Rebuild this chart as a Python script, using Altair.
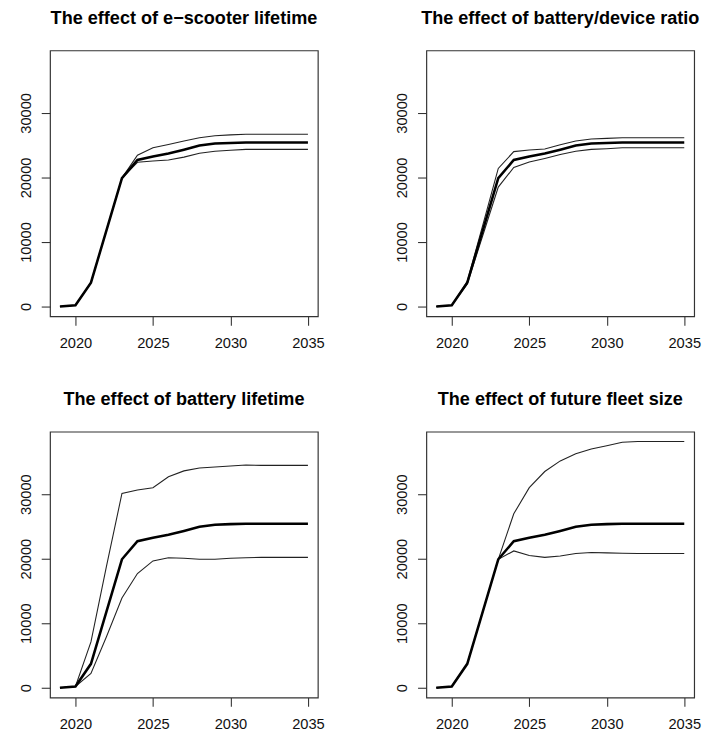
import altair as alt
import pandas as pd

years = list(range(2019, 2036))

base = [0, 200, 3700, 11800, 19900, 22700, 23250, 23700, 24300, 24950, 25250, 25350, 25400, 25400, 25400, 25400, 25400]

titles = [
    "The effect of e\u2212scooter lifetime",
    "The effect of battery/device ratio",
    "The effect of battery lifetime",
    "The effect of future fleet size",
]

upper_scooter = [0, 200, 3700, 11800, 19900, 23450, 24600, 25100, 25650, 26150, 26450, 26600, 26700, 26700, 26700, 26700, 26700]
lower_scooter = [0, 200, 3700, 11800, 19900, 22350, 22550, 22700, 23150, 23750, 24050, 24200, 24350, 24350, 24350, 24350, 24350]

upper_ratio = [0, 200, 3900, 12600, 21400, 24000, 24250, 24400, 25050, 25650, 25950, 26050, 26150, 26150, 26150, 26150, 26150]
lower_ratio = [0, 200, 3500, 11000, 18500, 21550, 22400, 22950, 23550, 24050, 24350, 24450, 24600, 24600, 24600, 24600, 24600]

upper_battery = [0, 200, 7100, 18800, 30100, 30650, 31000, 32700, 33600, 34050, 34200, 34350, 34500, 34450, 34450, 34450, 34450]
lower_battery = [0, 200, 2200, 7900, 13900, 17700, 19650, 20150, 20050, 19900, 19900, 20050, 20150, 20200, 20200, 20200, 20200]

upper_fleet = [0, 200, 3700, 11800, 19900, 26950, 31000, 33500, 35150, 36250, 37000, 37500, 38050, 38150, 38150, 38150, 38150]
lower_fleet = [0, 200, 3700, 11800, 19900, 21200, 20500, 20200, 20400, 20800, 20950, 20900, 20850, 20800, 20800, 20800, 20800]

x_ticks = [2020, 2025, 2030, 2035]
y_ticks = [0, 10000, 20000, 30000]

variants = [
    (upper_scooter, lower_scooter),
    (upper_ratio, lower_ratio),
    (upper_battery, lower_battery),
    (upper_fleet, lower_fleet),
]

# R-style axis limits: data range extended by 4% on each side
all_vals = base + [v for pair in variants for s in pair for v in s]
ymin, ymax = min(all_vals), max(all_vals)
ypad = 0.04 * (ymax - ymin)
xpad = 0.04 * (years[-1] - years[0])
y_dom = [ymin - ypad, ymax + ypad]
x_dom = [years[0] - xpad, years[-1] + xpad]

W, H = 274, 272


def panel(title, upper, lower):
    rows = []
    for y, b, u, l in zip(years, base, upper, lower):
        rows.append({"year": y, "value": b, "series": "base"})
        rows.append({"year": y, "value": u, "series": "upper"})
        rows.append({"year": y, "value": l, "series": "lower"})
    df = pd.DataFrame(rows)
    x = alt.X("year:Q", scale=alt.Scale(domain=x_dom, nice=False, zero=False),
              axis=alt.Axis(values=x_ticks, format="d", title=None, labelPadding=11,
                            labelAngle=0))
    y = alt.Y("value:Q", scale=alt.Scale(domain=y_dom, nice=False, zero=False),
              axis=alt.Axis(values=y_ticks, format="d", title=None, labelAngle=270,
                            labelAlign="center", labelBaseline="alphabetic", labelPadding=11))
    thin = alt.Chart(df).transform_filter(alt.datum.series != "base").mark_line(
        color="#222", strokeWidth=1.1
    ).encode(x=x, y=y, detail="series:N")
    thick = alt.Chart(df).transform_filter(alt.datum.series == "base").mark_line(
        color="black", strokeWidth=2.6
    ).encode(x=x, y=y)
    return alt.layer(thin, thick).properties(
        width=W, height=H,
        title=alt.TitleParams(title, fontSize=18.5, fontWeight="bold", font="Liberation Sans",
                              color="black", anchor="middle", offset=24),
    )


charts = [panel(t, u, l) for t, (u, l) in zip(titles, variants)]

chart = alt.vconcat(
    alt.hconcat(charts[0], charts[1], spacing=70),
    alt.hconcat(charts[2], charts[3], spacing=70),
    spacing=38,
).properties(
    padding={"left": 10, "top": -9, "right": 0, "bottom": 0}
).configure_view(
    stroke="#333", strokeWidth=1.2
).configure_axis(
    domain=False, grid=False, tickColor="#333", tickSize=9, tickWidth=1.1,
    labelFont="Liberation Sans", labelFontSize=15, labelColor="#111",
)

chart.save("out.html", embed_options={"renderer": "svg", "actions": False})
